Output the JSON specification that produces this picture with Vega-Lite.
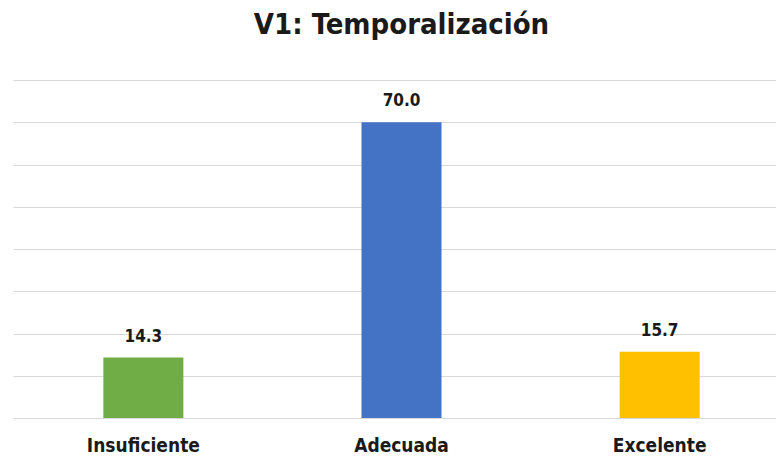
{
  "$schema": "https://vega.github.io/schema/vega-lite/v6.json",
  "autosize": "none",
  "width": 777,
  "height": 338,
  "padding": {"left": 13, "top": 80, "right": 0, "bottom": 41},
  "background": "white",
  "title": {
    "text": "V1: Temporalización",
    "font": "DejaVu Sans Condensed",
    "fontSize": 29,
    "fontWeight": "bold",
    "color": "#1a1a1a",
    "anchor": "middle",
    "frame": "group",
    "baseline": "alphabetic",
    "offset": 44,
    "dy": 27
  },
  "config": {"view": {"stroke": null}},
  "data": {
    "values": [
      {"categoria": "Insuficiente", "valor": 14.3},
      {"categoria": "Adecuada", "valor": 70.0},
      {"categoria": "Excelente", "valor": 15.7}
    ]
  },
  "encoding": {
    "x": {
      "field": "categoria",
      "type": "nominal",
      "sort": ["Insuficiente", "Adecuada", "Excelente"],
      "scale": {"paddingInner": 0.69, "paddingOuter": 0.35},
      "axis": {
        "title": null,
        "labelAngle": 0,
        "domain": false,
        "ticks": false,
        "labelFont": "DejaVu Sans Condensed",
        "labelFontSize": 19,
        "labelFontWeight": "bold",
        "labelColor": "#1a1a1a",
        "labelPadding": 18
      }
    },
    "y": {
      "field": "valor",
      "type": "quantitative",
      "scale": {"domain": [0, 80]},
      "axis": {
        "title": null,
        "labels": false,
        "ticks": false,
        "domain": false,
        "values": [0, 10, 20, 30, 40, 50, 60, 70, 80],
        "gridColor": "#d9d9d9",
        "gridWidth": 1
      }
    }
  },
  "layer": [
    {
      "mark": {"type": "bar"},
      "encoding": {
        "color": {
          "field": "categoria",
          "type": "nominal",
          "scale": {
            "domain": ["Insuficiente", "Adecuada", "Excelente"],
            "range": ["#70AD47", "#4472C4", "#FFC000"]
          },
          "legend": null
        }
      }
    },
    {
      "mark": {
        "type": "text",
        "baseline": "alphabetic",
        "dy": -16,
        "font": "DejaVu Sans Condensed",
        "fontSize": 17,
        "fontWeight": "bold",
        "color": "#1a1a1a"
      },
      "encoding": {
        "text": {"field": "valor", "type": "quantitative", "format": ".1f"}
      }
    }
  ]
}
